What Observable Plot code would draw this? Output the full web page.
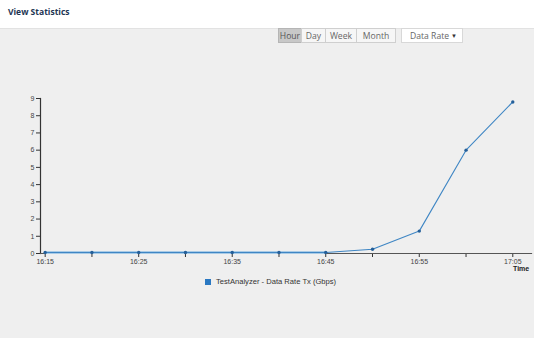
<!DOCTYPE html>
<html><head><meta charset="utf-8">
<script src="https://cdn.jsdelivr.net/npm/d3@7"></script>
<script src="https://cdn.jsdelivr.net/npm/@observablehq/plot@0.6"></script>
<style>
html,body{margin:0;padding:0;}
body{width:534px;height:338px;background:#efefef;position:relative;overflow:hidden;font-family:"Open Sans",sans-serif;}
#hdr{position:absolute;left:0;top:0;width:534px;height:28px;background:#fff;border-bottom:1px solid #e2e2e2;}
#hdr span{position:absolute;left:8px;top:6px;font-size:8.5px;font-weight:700;color:#1d3552;}
.btn{position:absolute;top:28px;height:15px;line-height:15px;font-size:8.6px;color:#666;text-align:center;background:#f6f6f6;border:1px solid #cfcfcf;box-sizing:border-box;}
#chart{position:absolute;left:0;top:85px;}
#timelbl{position:absolute;left:513px;top:265px;font-family:"Liberation Sans",Arial,sans-serif;font-size:7px;font-weight:700;color:#222;}
#legend{position:absolute;left:205px;top:277px;font-family:"Liberation Sans",Arial,sans-serif;font-size:7.6px;color:#333;white-space:nowrap;}
#legend i{display:inline-block;width:6px;height:6px;background:#2a78c2;margin-right:5px;vertical-align:-0.5px;}
</style></head>
<body>
<div id="hdr"><span>View Statistics</span></div>
<div class="btn" style="left:278px;width:24px;background:#c8c8c8;border-color:#b5b5b5;color:#555;">Hour</div>
<div class="btn" style="left:301px;width:25px;">Day</div>
<div class="btn" style="left:325px;width:32px;">Week</div>
<div class="btn" style="left:356px;width:40px;">Month</div>
<div class="btn" style="left:401px;width:62px;background:#fff;border-color:#d8d8d8;text-align:left;padding-left:8px;">Data Rate<span style="position:absolute;right:5px;font-size:6px;color:#333;">&#9660;</span></div>
<div id="chart"></div>
<div id="timelbl">Time</div>
<div id="legend"><i></i>TestAnalyzer - Data Rate Tx (Gbps)</div>
<script>
const timeLabels = ["16:15","16:20","16:25","16:30","16:35","16:40","16:45","16:50","16:55","17:00","17:05"];
const rateTx = [0.06,0.06,0.06,0.06,0.06,0.06,0.06,0.25,1.3,6.0,8.8];
const yTicks = [0,1,2,3,4,5,6,7,8,9];
const seriesName = "TestAnalyzer - Data Rate Tx (Gbps)";

const toDate = s => { const [h,m] = s.split(":").map(Number); return new Date(2020,0,1,h,m); };
const data = timeLabels.map((t,i) => ({time: toDate(t), value: rateTx[i]}));
const ticks = timeLabels.map(toDate);
const fmt = d3.timeFormat("%H:%M");
const xStart = new Date(2020,0,1,16,14,30);
const xEnd = new Date(2020,0,1,17,7);

const chart = Plot.plot({
  width: 534, height: 190,
  marginLeft: 40, marginRight: 3, marginTop: 13, marginBottom: 22,
  style: {background: "transparent", fontFamily: "Liberation Sans, Arial, sans-serif", fontSize: "7px", color: "#444"},
  x: {type: "time", domain: [xStart, xEnd]},
  y: {domain: [0, 9]},
  marks: [
    Plot.axisY({ticks: yTicks, tickSize: 4, tickPadding: 2, label: null, stroke: "#333"}),
    Plot.axisX({ticks: ticks, tickSize: 4, tickPadding: 2, label: null, stroke: "#333",
      tickFormat: (d, i) => (d.getMinutes() % 10 === 5 ? fmt(d) : "")}),
    Plot.frame({anchor: "left", stroke: "#333", strokeWidth: 1.2}),
    Plot.frame({anchor: "bottom", stroke: "#555", strokeWidth: 1.2}),
    Plot.lineY(data, {x: "time", y: "value", stroke: "#a9cbe6", strokeWidth: 3, filter: d => d.value < 0.1}),
    Plot.lineY(data, {x: "time", y: "value", stroke: "#3f86c4", strokeWidth: 1.1}),
    Plot.dot(data, {x: "time", y: "value", r: 1.7, fill: "#245f99"})
  ]
});
document.getElementById("chart").appendChild(chart);
</script>
</body></html>
